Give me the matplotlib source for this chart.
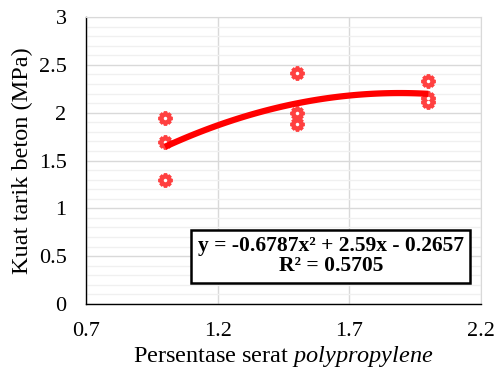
import numpy as np
import matplotlib.pyplot as plt
from matplotlib.ticker import MultipleLocator

plt.rcParams['font.family'] = ['Liberation Serif', 'DejaVu Serif']
plt.rcParams['mathtext.fontset'] = 'custom'
plt.rcParams['mathtext.rm'] = 'Liberation Serif'
plt.rcParams['mathtext.it'] = 'Liberation Serif:italic'

# data
serat = [1.0, 1.0, 1.0, 1.5, 1.5, 1.5, 2.0, 2.0, 2.0]
kuat_tarik = [1.94, 1.69, 1.30, 2.41, 2.00, 1.88, 2.33, 2.15, 2.11]
x_ticks = [0.7, 1.2, 1.7, 2.2]
y_ticks = [0, 0.5, 1, 1.5, 2, 2.5, 3]

fig = plt.figure(figsize=(4.97, 3.74), dpi=100)
ax = fig.add_axes([86/497, 1 - 304/374, (481 - 86)/497, (304 - 17)/374])

# grid
ax.yaxis.set_minor_locator(MultipleLocator(0.1))
ax.grid(which='major', axis='both', color='#d9d9d9', lw=1)
ax.grid(which='minor', axis='y', color='#f0f0f0', lw=1)
ax.set_axisbelow(True)

# scatter
ax.plot(serat, kuat_tarik, ls='none', marker='o', ms=8, color='#ff4040', zorder=3)
ax.plot(serat, kuat_tarik, ls='none', marker=(8, 2, 0), ms=10, mew=2.5,
        color='#ff4040', zorder=3)
ax.plot(serat, kuat_tarik, ls='none', marker='o', ms=2.5, color='white',
        mew=0, zorder=3)

# polynomial trendline
koef = np.polyfit(serat, kuat_tarik, 2)
xs = np.linspace(min(serat), max(serat), 100)
ax.plot(xs, np.polyval(koef, xs), color='red', lw=4.5, solid_capstyle='butt', zorder=4)

ax.set_xlim(0.7, 2.2)
ax.set_ylim(0, 3)
ax.set_xticks(x_ticks)
ax.set_yticks(y_ticks)
ax.set_xticklabels([str(v) for v in x_ticks])
ax.set_yticklabels(['0', '0.5', '1', '1.5', '2', '2.5', '3'])
ax.tick_params(which='both', length=0, labelsize=16)
ax.tick_params(axis='y', pad=14)
ax.tick_params(axis='x', pad=13)

for s in ['top', 'right']:
    ax.spines[s].set_color('#d9d9d9')
for s in ['left', 'bottom']:
    ax.spines[s].set_color('black')
    ax.spines[s].set_linewidth(1)

ax.set_ylabel('Kuat tarik beton (MPa)', fontsize=17.5, labelpad=4)
ax.set_xlabel(r'Persentase serat $\mathit{polypropylene}$', fontsize=17.5, labelpad=2)

ax.text(1.63, 0.50, 'y = -0.6787x² + 2.59x - 0.2657\nR² = 0.5705',
        ha='center', va='center', fontsize=15.5, fontweight='bold',
        linespacing=1.0,
        bbox=dict(boxstyle='square,pad=0.3', fc='white', ec='black', lw=1.8),
        zorder=5)

fig.savefig('out.png', dpi=100)
